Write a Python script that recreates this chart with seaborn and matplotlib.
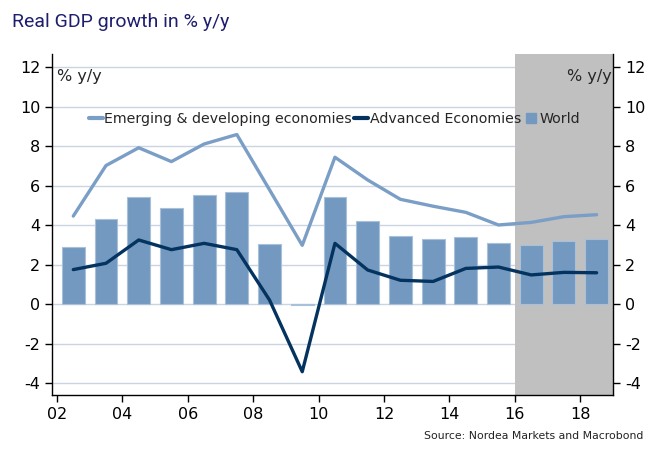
import numpy as np
import pandas as pd
import matplotlib
matplotlib.use("Agg")
import matplotlib.pyplot as plt
import seaborn as sns
from matplotlib.lines import Line2D

years = list(range(2002, 2019))
world = [2.92, 4.30, 5.43, 4.88, 5.52, 5.68, 3.04, -0.05, 5.45, 4.23, 3.48, 3.29, 3.41, 3.09, 3.00, 3.21, 3.31]
emerging = [4.47, 7.03, 7.93, 7.23, 8.12, 8.60, 5.8, 2.99, 7.45, 6.3, 5.32, 4.97, 4.66, 4.02, 4.15, 4.44, 4.54]
advanced = [1.76, 2.08, 3.26, 2.77, 3.09, 2.77, 0.22, -3.41, 3.09, 1.74, 1.22, 1.16, 1.82, 1.89, 1.49, 1.62, 1.60]
yticks = [-4, -2, 0, 2, 4, 6, 8, 10, 12]
xticks = [2002, 2004, 2006, 2008, 2010, 2012, 2014, 2016, 2018]
xticklabels = ["02", "04", "06", "08", "10", "12", "14", "16", "18"]
forecast_start = 2016

df = pd.DataFrame({"x": [y + 0.5 for y in years], "world": world,
                   "emerging": emerging, "advanced": advanced})

sns.set_style("white")
plt.rcParams["font.family"] = ["DejaVu Sans"]
plt.rcParams["axes.unicode_minus"] = False

bar_c = "#7499c0"
em_c = "#7a9ec6"
adv_c = "#04335f"
grid_c = "#c9d5e1"

fig = plt.figure(figsize=(6.67, 4.75), dpi=100)
ax = fig.add_axes([0.078, 0.168, 0.841, 0.718])

for t in yticks:
    ax.axhline(t, color=grid_c, lw=1.0, zorder=0)
ax.axvspan(forecast_start, 2019.0, color="#c0c0c0", lw=0, zorder=0.5)

sns.barplot(data=df, x="x", y="world", native_scale=True, width=0.7,
            color=bar_c, saturation=1, edgecolor="#a8c0da", linewidth=0.8,
            ax=ax, zorder=2)
sns.lineplot(data=df, x="x", y="emerging", color=em_c, lw=2.4, ax=ax, zorder=3)
sns.lineplot(data=df, x="x", y="advanced", color=adv_c, lw=2.4, ax=ax, zorder=4)

ax.set_xlim(2001.85, 2019.0)
ax.set_ylim(-4.6, 12.67)
ax.set_xticks(xticks)
ax.set_xticklabels(xticklabels)
ax.set_yticks(yticks)
ax.set_xlabel("")
ax.set_ylabel("")
for s in ["left", "right", "bottom"]:
    ax.spines[s].set_visible(True)
    ax.spines[s].set_color("black")
    ax.spines[s].set_linewidth(1.0)
ax.spines["top"].set_visible(False)
ax.tick_params(axis="both", which="both", direction="out", length=5, width=1,
               labelsize=11.5, colors="black", left=True, bottom=True,
               right=True, labelright=True)
ax.yaxis.set_ticks_position("both")
ax.tick_params(axis="y", labelright=True)

ax.text(0.009, 0.955, "% y/y", transform=ax.transAxes, fontsize=11.5,
        ha="left", va="top")
ax.text(0.998, 0.955, "% y/y", transform=ax.transAxes, fontsize=11.5,
        ha="right", va="top")

handles = [Line2D([0], [0], color=em_c, lw=3),
           Line2D([0], [0], color=adv_c, lw=3),
           Line2D([0], [0], color=bar_c, lw=0, marker="s", markersize=7)]
labels = ["Emerging & developing economies", "Advanced Economies", "World"]
ax.legend(handles, labels, loc="center left", bbox_to_anchor=(0.055, 0.81),
          ncol=3, frameon=False, fontsize=10.2, handlelength=1.0,
          handletextpad=0.12, columnspacing=0.15, borderaxespad=0)

fig.text(0.018, 0.943, "Real GDP growth in % y/y", fontsize=14,
         color="#1e1e6e", family=["Roboto", "DejaVu Sans"],
         ha="left", va="baseline")
fig.text(0.964, 0.075, "Source: Nordea Markets and Macrobond", fontsize=7.8,
         color="#222222", ha="right", va="baseline")

fig.savefig("out.png", dpi=100)
